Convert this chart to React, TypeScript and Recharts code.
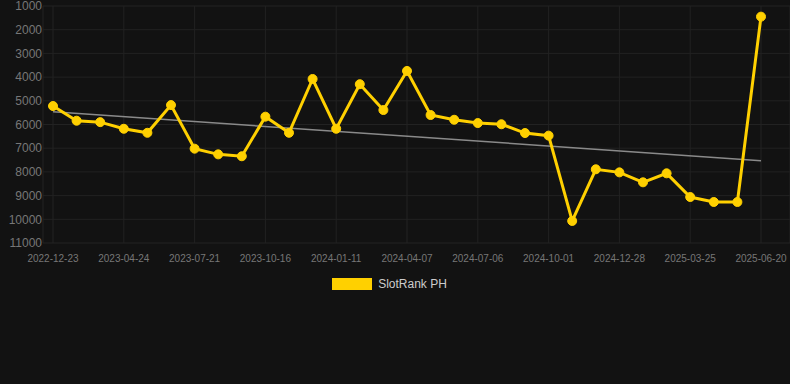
import { LineChart, Line, XAxis, YAxis, CartesianGrid, Legend, ReferenceLine } from "recharts";

const dates = [
  "2022-12-23", "2023-02-03", "2023-03-17", "2023-04-24", "2023-05-23", "2023-06-21",
  "2023-07-21", "2023-08-19", "2023-09-17", "2023-10-16", "2023-11-14", "2023-12-13",
  "2024-01-11", "2024-02-09", "2024-03-09", "2024-04-07", "2024-05-07", "2024-06-06",
  "2024-07-06", "2024-08-04", "2024-09-02", "2024-10-01", "2024-10-30", "2024-11-29",
  "2024-12-28", "2025-01-26", "2025-02-24", "2025-03-25", "2025-04-23", "2025-05-22",
  "2025-06-20",
];

const rank = [
  5220, 5840, 5900, 6180, 6350, 5180, 7020, 7260, 7340, 5670, 6350, 4080, 6180, 4300,
  5390, 3740, 5600, 5800, 5940, 5990, 6360, 6470, 10070, 7890, 8020, 8440, 8060, 9060,
  9270, 9270, 1450,
];

const labelDates = [
  "2022-12-23", "2023-04-24", "2023-07-21", "2023-10-16", "2024-01-11", "2024-04-07",
  "2024-07-06", "2024-10-01", "2024-12-28", "2025-03-25", "2025-06-20",
];

const yTicks = [1000, 2000, 3000, 4000, 5000, 6000, 7000, 8000, 9000, 10000, 11000];

// trend line end values (first / last date)
const trendStart = 5460;
const trendEnd = 7530;

const seriesName = "SlotRank PH";
const yellow = "#ffd000";

const data = dates.map((d, i) => ({ date: d, rank: rank[i] }));

const LegendBox = () => (
  <div
    style={{
      display: "flex",
      justifyContent: "center",
      alignItems: "center",
      height: 20,
      paddingRight: 11,
      fontSize: 12,
      color: "#cccccc",
    }}
  >
    <span style={{ display: "inline-block", width: 40, height: 12, background: yellow, marginRight: 6 }} />
    <span>{seriesName}</span>
  </div>
);

export default function App() {
  return (
    <div
      style={{
        position: "absolute",
        left: 0,
        top: 0,
        width: 790,
        height: 384,
        background: "#121212",
        fontFamily: "'Liberation Sans', Arial, sans-serif",
      }}
    >
      <LineChart width={790} height={384} data={data} margin={{ top: 6, right: 0, bottom: 90, left: 0 }}>
        <CartesianGrid stroke="#222222" strokeWidth={1} />
        <XAxis
          dataKey="date"
          scale="point"
          ticks={labelDates}
          interval={0}
          padding={{ left: 10, right: 29 }}
          height={31}
          axisLine={false}
          tickLine={false}
          tickSize={0}
          tickMargin={12}
          tick={{ fill: "#777777", fontSize: 10 }}
        />
        <YAxis
          reversed
          domain={[1000, 11000]}
          ticks={yTicks}
          interval={0}
          width={43}
          axisLine={false}
          tickLine={false}
          tickSize={0}
          tickMargin={1}
          tick={{ fill: "#777777", fontSize: 12 }}
        />
        <ReferenceLine
          segment={[
            { x: dates[0], y: trendStart },
            { x: dates[dates.length - 1], y: trendEnd },
          ]}
          stroke="#8a8a8a"
          strokeWidth={1.5}
          ifOverflow="visible"
        />
        <Line
          type="linear"
          dataKey="rank"
          name={seriesName}
          stroke={yellow}
          strokeWidth={3}
          dot={{ r: 4.5, fill: yellow, stroke: yellow, strokeWidth: 1 }}
          activeDot={false}
          isAnimationActive={false}
        />
        <Legend verticalAlign="bottom" height={20} content={() => <LegendBox />} />
      </LineChart>
    </div>
  );
}
